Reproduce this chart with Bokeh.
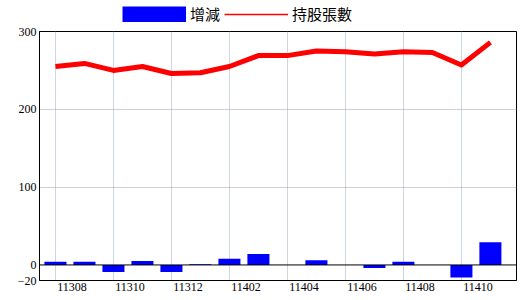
from bokeh.plotting import figure
from bokeh.layouts import column
from bokeh.models import (Range1d, FixedTicker, CustomJSTickFormatter, Span,
                          Legend, LegendItem, ColumnDataSource)
from bokeh.embed import file_html
from bokeh.resources import INLINE

months = ["11308", "11309", "11310", "11311", "11312", "11401", "11402", "11403",
          "11404", "11405", "11406", "11407", "11408", "11409", "11410", "11411"]
change = [4, 4, -9, 5, -9, 1, 8, 14, 0, 6, 0, -4, 4, 0, -16, 29]
holding = [255, 259, 250, 255, 246, 247, 255, 269, 269, 275, 274, 271, 274, 273, 257, 286]
y_ticks = [-20, 0, 100, 200, 300]
series_names = ["增減", "持股張數"]

BLUE = "#0000ff"
RED = "#ff0000"

idx = list(range(len(months)))
src = ColumnDataSource(dict(x=idx, change=change, holding=holding))

# ---- legend strip on top ----
lg = figure(width=520, height=25, x_range=Range1d(0, 1), y_range=Range1d(0, 1),
            output_backend="svg", toolbar_location=None,
            min_border_left=0, min_border_right=0, min_border_top=0, min_border_bottom=0)
lg.axis.visible = False
lg.grid.visible = False
lg.outline_line_color = None
lg.background_fill_color = "white"
lg.border_fill_color = "white"
# off-screen placeholder renderers that only supply the legend swatches
leg_bar = lg.line(x=[-10, -9], y=[0, 0], color=BLUE, line_width=16, line_cap="butt")
leg_line = lg.line(x=[-10, -9], y=[0, 0], color=RED, line_width=1.5)
legend = Legend(items=[LegendItem(label=series_names[0], renderers=[leg_bar]),
                       LegendItem(label=series_names[1], renderers=[leg_line])],
                orientation="horizontal", location=(83, 1),
                glyph_width=64, glyph_height=16, label_height=16, label_standoff=4,
                spacing=4, padding=0, margin=0,
                label_text_font="Noto Sans CJK TC", label_text_font_size="15px",
                label_text_color="black",
                border_line_alpha=0, background_fill_alpha=0)
lg.add_layout(legend, "center")

# ---- main chart ----
p = figure(width=520, height=275, x_range=Range1d(-0.55, 15.9), y_range=Range1d(-20, 300),
           output_backend="svg", toolbar_location=None,
           min_border_left=39, min_border_right=4, min_border_top=6, min_border_bottom=20)
p.background_fill_color = "white"
p.border_fill_color = "white"
p.outline_line_color = "black"
p.outline_line_alpha = 1
p.outline_line_width = 1

p.vbar(x="x", top="change", bottom=0, width=0.76, fill_color=BLUE, line_color=None, source=src)
p.line(x="x", y="holding", color=RED, line_width=5, line_join="round", source=src)
p.add_layout(Span(location=0, dimension="width", line_color="black", line_width=1))

lab_font = "Liberation Serif"
xa = p.xaxis[0]
xa.ticker = FixedTicker(ticks=[i + 0.57 for i in range(0, len(months), 2)])
xa.formatter = CustomJSTickFormatter(args=dict(labels=months),
                                     code="const i = Math.round(tick - 0.57); return labels[i] || '';")
xa.major_tick_in = 0
xa.major_tick_out = 0
xa.minor_tick_in = 0
xa.minor_tick_out = 0
xa.axis_line_color = "black"
xa.major_label_standoff = 2
xa.major_label_text_font = lab_font
xa.major_label_text_font_size = "12px"
xa.major_label_text_color = "black"

ya = p.yaxis[0]
ya.ticker = FixedTicker(ticks=y_ticks)
ya.major_tick_in = 0
ya.major_tick_out = 0
ya.minor_tick_in = 0
ya.minor_tick_out = 0
ya.axis_line_color = "black"
ya.major_label_standoff = 3
ya.major_label_text_font = lab_font
ya.major_label_text_font_size = "12px"
ya.major_label_text_color = "black"

p.xgrid.ticker = FixedTicker(ticks=list(range(0, len(months), 2)))
p.xgrid.grid_line_color = "#9aabbc"
p.xgrid.grid_line_dash = "1 1"
p.ygrid.ticker = FixedTicker(ticks=[100, 200])
p.ygrid.grid_line_color = "#a0a0a8"
p.ygrid.grid_line_dash = "1 1"

layout = column(lg, p, spacing=0)
open("out.html", "w").write(file_html(layout, INLINE))
